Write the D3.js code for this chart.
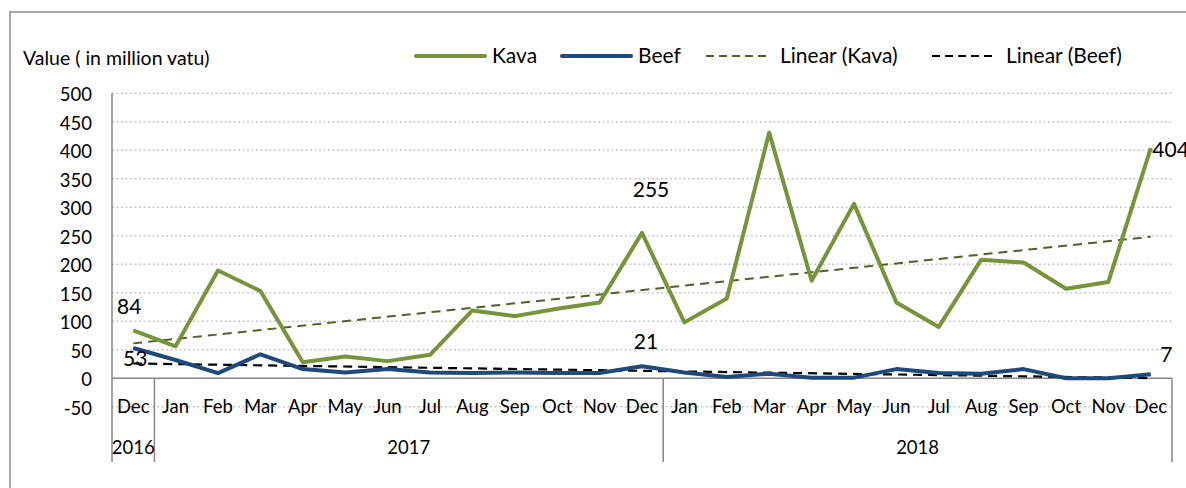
<!DOCTYPE html>
<html>
<head>
<meta charset="utf-8">
<script src="https://cdn.jsdelivr.net/npm/d3@7"></script>
<style>
  body { margin: 0; background: #fff; }
  svg { display: block; font-family: Lato, "Open Sans", sans-serif; }
</style>
</head>
<body>
<div id="chart"></div>
<script>
// months, Dec 2016 .. Dec 2018
const months = ["Dec", "Jan", "Feb", "Mar", "Apr", "May", "Jun", "Jul", "Aug", "Sep", "Oct", "Nov", "Dec",
                "Jan", "Feb", "Mar", "Apr", "May", "Jun", "Jul", "Aug", "Sep", "Oct", "Nov", "Dec"];
const years = [
    {label: "2016", from: 0, to: 0},
    {label: "2017", from: 1, to: 12},
    {label: "2018", from: 13, to: 24}
];
const kava = [84, 56, 189, 153, 28, 38, 30, 41, 119, 109, 122, 133, 255,
              98, 140, 431, 171, 306, 133, 90, 208, 203, 157, 169, 404];
const beef = [53, 32, 9, 42, 16, 10, 16, 10, 9, 10, 9, 9, 21,
              10, 2, 8, 1, 1, 16, 9, 8, 16, 0, 0, 7];
const yTicks = [-50, 0, 50, 100, 150, 200, 250, 300, 350, 400, 450, 500];

const width = 1186, height = 488;
const green = "#77933c", blue = "#1f497d";

const svg = d3.select("#chart")
    .append("svg")
    .attr("width", width)
    .attr("height", height);

// outer chart border (runs off the right and bottom edge)
svg.append("rect")
    .attr("x", 10).attr("y", 12)
    .attr("width", 1300).attr("height", 600)
    .attr("fill", "none")
    .attr("stroke", "#8c8c8c")
    .attr("stroke-width", 1.5);

const x = d3.scaleBand()
    .domain(d3.range(months.length))
    .range([112, 1172])
    .paddingInner(0).paddingOuter(0);
const cx = i => x(i) + x.bandwidth() / 2;

const y = d3.scaleLinear()
    .domain([-50, 500])
    .range([406.7, 93.3]);

// dotted gridlines
svg.append("g")
    .selectAll("line")
    .data(yTicks.filter(d => d !== 0))
    .enter().append("line")
    .attr("x1", 112).attr("x2", 1172)
    .attr("y1", d => y(d)).attr("y2", d => y(d))
    .attr("stroke", "#c9c9c9")
    .attr("stroke-width", 1.5)
    .attr("stroke-dasharray", "2,2.5");

// y axis
const yAxis = svg.append("g")
    .attr("transform", "translate(112,0)")
    .call(d3.axisLeft(y).tickValues(yTicks).tickSize(0).tickPadding(20).tickFormat(d => String(d)));
yAxis.select(".domain").remove();
yAxis.selectAll("text")
    .attr("font-size", 18.5)
    .attr("font-family", "Lato")
    .attr("fill", "#000")
    .attr("dy", "0.4em");

svg.append("line")
    .attr("x1", 112).attr("x2", 112)
    .attr("y1", y(500)).attr("y2", 462)
    .attr("stroke", "#868686").attr("stroke-width", 1.5);

// x axis line at zero
svg.append("line")
    .attr("x1", 112).attr("x2", 1172)
    .attr("y1", y(0)).attr("y2", y(0))
    .attr("stroke", "#868686").attr("stroke-width", 1.5);

// year group dividers
const dividers = [years[1].from, years[2].from].map(i => x(i)).concat([1172]);
svg.append("g")
    .selectAll("line")
    .data(dividers)
    .enter().append("line")
    .attr("x1", d => d).attr("x2", d => d)
    .attr("y1", y(0)).attr("y2", 462)
    .attr("stroke", "#868686").attr("stroke-width", 1.5);

// month labels (drawn at the low end of the plot)
svg.append("g")
    .selectAll("text")
    .data(months)
    .enter().append("text")
    .attr("x", (d, i) => cx(i))
    .attr("y", 413)
    .attr("text-anchor", "middle")
    .attr("font-size", 18.5)
    .text(d => d);

svg.append("g")
    .selectAll("text")
    .data(years)
    .enter().append("text")
    .attr("x", d => (x(d.from) + x(d.to) + x.bandwidth()) / 2)
    .attr("y", 454)
    .attr("text-anchor", "middle")
    .attr("font-size", 18.5)
    .text(d => d.label);

// linear trend (least squares), like Excel's trendline
function trend(values) {
    const n = values.length;
    const mx = d3.mean(d3.range(n)), my = d3.mean(values);
    const b = d3.sum(values, (v, i) => (i - mx) * (v - my)) / d3.sum(values, (v, i) => (i - mx) * (i - mx));
    const a = my - b * mx;
    return [[0, a], [n - 1, a + b * (n - 1)]];
}

const line = d3.line()
    .x((d, i) => cx(i))
    .y(d => y(d));

svg.append("path")
    .datum(trend(kava))
    .attr("fill", "none")
    .attr("stroke", "#4f6228")
    .attr("stroke-width", 2)
    .attr("stroke-dasharray", "9,6")
    .attr("d", d3.line().x(d => cx(d[0])).y(d => y(d[1])));

svg.append("path")
    .datum(trend(beef))
    .attr("fill", "none")
    .attr("stroke", "#000")
    .attr("stroke-width", 2.2)
    .attr("stroke-dasharray", "9,6")
    .attr("d", d3.line().x(d => cx(d[0])).y(d => y(d[1])));

svg.append("path")
    .datum(kava)
    .attr("fill", "none")
    .attr("stroke", green)
    .attr("stroke-width", 4)
    .attr("stroke-linejoin", "round")
    .attr("d", line);

svg.append("path")
    .datum(beef)
    .attr("fill", "none")
    .attr("stroke", blue)
    .attr("stroke-width", 4)
    .attr("stroke-linejoin", "round")
    .attr("d", line);

// data labels: first, Dec 2017 and last point of each series
const labelSpots = [
    {values: kava, i: 0, dx: -4, dy: -16, anchor: "middle"},
    {values: beef, i: 0, dx: 2, dy: 17.5, anchor: "middle"},
    {values: kava, i: 12, dx: 9, dy: -35.5, anchor: "middle"},
    {values: beef, i: 12, dx: 4, dy: -17, anchor: "middle"},
    {values: kava, i: 24, dx: 1.5, dy: 8.6, anchor: "start"},
    {values: beef, i: 24, dx: 15.5, dy: -12, anchor: "middle"}
];
svg.append("g")
    .selectAll("text")
    .data(labelSpots)
    .enter().append("text")
    .attr("x", d => cx(d.i) + d.dx)
    .attr("y", d => y(d.values[d.i]) + d.dy)
    .attr("text-anchor", d => d.anchor)
    .attr("font-size", 21)
    .text(d => d.values[d.i]);

// axis title
svg.append("text")
    .attr("x", 23).attr("y", 65)
    .attr("font-size", 19.5)
    .text("Value ( in million vatu)");

// legend
const legendItems = [
    {name: "Kava", x: 415, color: green, width: 4, dash: null},
    {name: "Beef", x: 561, color: blue, width: 4, dash: null},
    {name: "Linear (Kava)", x: 706, color: "#4f6228", width: 2, dash: "8,5"},
    {name: "Linear (Beef)", x: 932, color: "#000", width: 2, dash: "8,5"}
];
const legend = svg.append("g")
    .selectAll("g")
    .data(legendItems)
    .enter().append("g")
    .attr("transform", d => `translate(${d.x},56)`);
legend.append("line")
    .attr("x1", d => d.dash ? 0 : 1).attr("x2", d => d.dash ? 64 : 70)
    .attr("stroke", d => d.color)
    .attr("stroke-width", d => d.width)
    .attr("stroke-linecap", d => d.dash ? "butt" : "round")
    .attr("stroke-dasharray", d => d.dash);
legend.append("text")
    .attr("x", d => d.dash ? 74 : 77)
    .attr("y", 7)
    .attr("font-size", 21)
    .text(d => d.name);
</script>
</body>
</html>
